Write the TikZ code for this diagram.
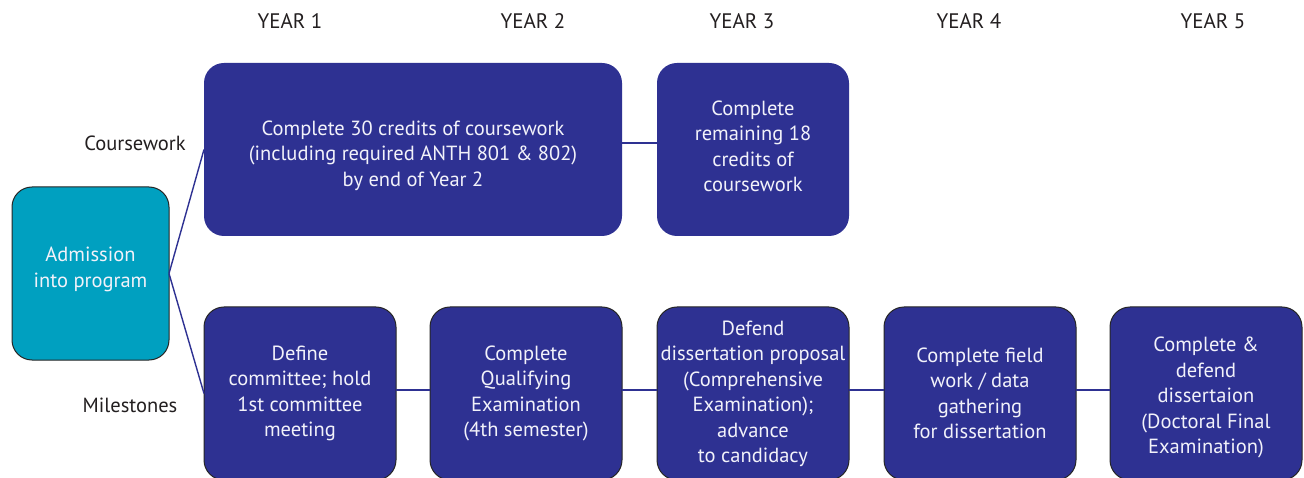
\documentclass[tikz,border=0pt]{standalone}
\usepackage{fontspec}
\setmainfont{PT Sans}
\definecolor{navy}{HTML}{2E3192}
\definecolor{teal}{HTML}{00A0C0}
\definecolor{txt}{HTML}{231F20}
\definecolor{boxtxt}{HTML}{F2F2FA}
\begin{document}
\begin{tikzpicture}[x=1pt,y=-1pt,
  box/.style={rectangle, rounded corners=20pt, fill=navy, draw=none, inner sep=0pt, outer sep=0pt,
    text=boxtxt, align=center, font=\fontsize{20.5}{25.5}\selectfont},
  boxtext/.style={box, fill=none, yshift=-2.5pt},
  mbox/.style={box, draw=black!85, line width=1pt},
  admit/.style={box, fill=teal, draw=black!85, line width=1pt},
  lbl/.style={text=txt, font=\fontsize{20.5}{24}\selectfont, anchor=center},
  yr/.style={text=txt, font=\fontsize{21}{24}\selectfont, anchor=center},
  conn/.style={navy, line width=1.4pt}]
\useasboundingbox (0,0) rectangle (1304,478);
\fill[white] (0,0) rectangle (1304,478);
% boxes
\node[admit, minimum width=157pt, minimum height=173pt] (adm) at (90.5,273.5) {};
\node[box, minimum width=418pt, minimum height=173pt] (c1) at (413,149.5) {};
\node[box, minimum width=192pt, minimum height=173pt] (c2) at (753,149.5) {};
\node[mbox, minimum width=192pt, minimum height=173pt] (m1) at (300,393.5) {};
\node[mbox, minimum width=192pt, minimum height=173pt] (m2) at (526,393.5) {};
\node[mbox, minimum width=192pt, minimum height=173pt] (m3) at (753,393.5) {};
\node[mbox, minimum width=192pt, minimum height=173pt] (m4) at (980,393.5) {};
\node[mbox, minimum width=192pt, minimum height=173pt] (m5) at (1206,393.5) {};
% connectors
\draw[conn] (adm.east) -- (c1.west);
\draw[conn] (adm.east) -- (m1.west);
\draw[conn] (c1.east |- 0,143) -- (c2.west |- 0,143);
\draw[conn] (m1.east |- 0,390) -- (m2.west |- 0,390);
\draw[conn] (m2.east |- 0,390) -- (m3.west |- 0,390);
\draw[conn] (m3.east |- 0,390) -- (m4.west |- 0,390);
\draw[conn] (m4.east |- 0,390) -- (m5.west |- 0,390);
% box texts
\node[boxtext] (t0) at (90.5,267) {Admission\\into program};
\node[boxtext] (t1) at (413,153) {Complete 30 credits of coursework\\(including required ANTH 801 \& 802)\\by end of Year 2};
\node[boxtext] (t2) at (753,144) {Complete\\remaining 18\\credits of\\coursework};
\node[boxtext] (t3) at (300,391) {Define\\committee; hold\\1st committee\\meeting};
\node[boxtext] (t4) at (526,391) {Complete\\Qualifying\\Examination\\(4th semester)};
\node[boxtext] (t5) at (753,391.5) {Defend\\dissertation proposal\\(Comprehensive\\Examination);\\advance\\to candidacy};
\node[boxtext] (t6) at (980,391) {Complete field\\work / data\\gathering\\for dissertation};
\node[boxtext] (t7) at (1206,395) {Complete \&\\defend\\dissertaion\\(Doctoral Final\\Examination)};
% labels
\node[yr] (y1) at (290,21) {YEAR 1};
\node[yr] (y2) at (533,21) {YEAR 2};
\node[yr] (y3) at (742,21) {YEAR 3};
\node[yr] (y4) at (969,21) {YEAR 4};
\node[yr] (y5) at (1213,21) {YEAR 5};
\node[lbl] (lc) at (135,143) {Coursework};
\node[lbl] (lm) at (130,405) {Milestones};
\end{tikzpicture}
\end{document}
